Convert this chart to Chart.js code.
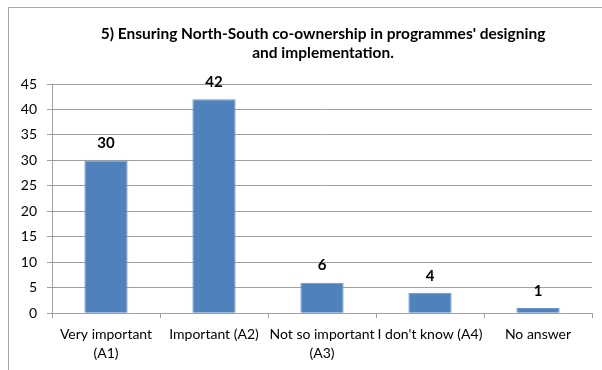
<!DOCTYPE html>
<html>
<head>
<meta charset="utf-8">
<script src="https://cdn.jsdelivr.net/npm/chart.js@4/dist/chart.umd.min.js"></script>
<style>
  html, body { margin: 0; padding: 0; background: #fff; overflow: hidden; width: 602px; height: 370px; }
  #frame { position: absolute; left: 8px; top: 7px; width: 628px; height: 380px; border: 1px solid #a6a6a6; background: #fff; }
  #chart { display: block; }
</style>
</head>
<body>
<div id="frame"><canvas id="chart" width="628" height="380"></canvas></div>
<script>
// Survey answers for question 5
const titleLines = ["5) Ensuring North-South co-ownership in programmes' designing", "and implementation."];
const categories = [["Very important", "(A1)"], "Important (A2)", ["Not so important", "(A3)"], "I don't know (A4)", "No answer"];
const counts = [30, 42, 6, 4, 1];
const yTicks = [0, 5, 10, 15, 20, 25, 30, 35, 40, 45];

const FONT = "Lato, 'Open Sans', sans-serif";
const GRID = '#a0a0a0';

// Bold value written above each bar
const valueLabels = {
  id: 'valueLabels',
  afterDatasetsDraw(chart) {
    const ctx = chart.ctx;
    const meta = chart.getDatasetMeta(0);
    ctx.save();
    ctx.font = 'bold 15px ' + FONT;
    ctx.fillStyle = '#000';
    ctx.textAlign = 'center';
    ctx.textBaseline = 'middle';
    meta.data.forEach((bar, i) => {
      ctx.fillText(String(counts[i]), bar.x, bar.y - 17);
    });
    ctx.restore();
  }
};

new Chart(document.getElementById('chart'), {
  type: 'bar',
  data: {
    labels: categories,
    datasets: [{
      data: counts,
      backgroundColor: '#4f81bd',
      borderColor: '#6a93c8',
      borderWidth: 1,
      categoryPercentage: 1,
      barPercentage: 0.4
    }]
  },
  options: {
    responsive: false,
    animation: false,
    layout: { padding: { left: 0, right: 0, top: 0, bottom: 18 } },
    plugins: {
      legend: { display: false },
      tooltip: { enabled: false },
      title: {
        display: true,
        text: titleLines,
        color: '#000',
        font: { family: FONT, size: 15.5, weight: 'bold', lineHeight: '19px' },
        padding: { top: 16, bottom: 22 }
      }
    },
    scales: {
      x: {
        grid: { display: true, drawOnChartArea: false, drawTicks: true, tickLength: 5, color: GRID, offset: true },
        border: { display: true, color: GRID },
        ticks: { color: '#000', font: { family: FONT, size: 14, lineHeight: 1.35 }, padding: 7, maxRotation: 0, autoSkip: false }
      },
      y: {
        min: 0,
        max: 45,
        afterBuildTicks(scale) { scale.ticks = yTicks.map(v => ({ value: v })); },
        afterFit(scale) { scale.width = 43; },
        grid: { color: GRID, drawTicks: true, tickLength: 5 },
        border: { display: true, color: GRID },
        ticks: { color: '#000', font: { family: FONT, size: 14 }, padding: 10 }
      },
      yRight: {
        type: 'linear',
        position: 'right',
        display: true,
        grid: { display: false, drawTicks: false },
        border: { display: false },
        ticks: { display: false },
        afterFit(scale) { scale.width = 45; }
      }
    }
  },
  plugins: [valueLabels]
});
</script>
</body>
</html>
